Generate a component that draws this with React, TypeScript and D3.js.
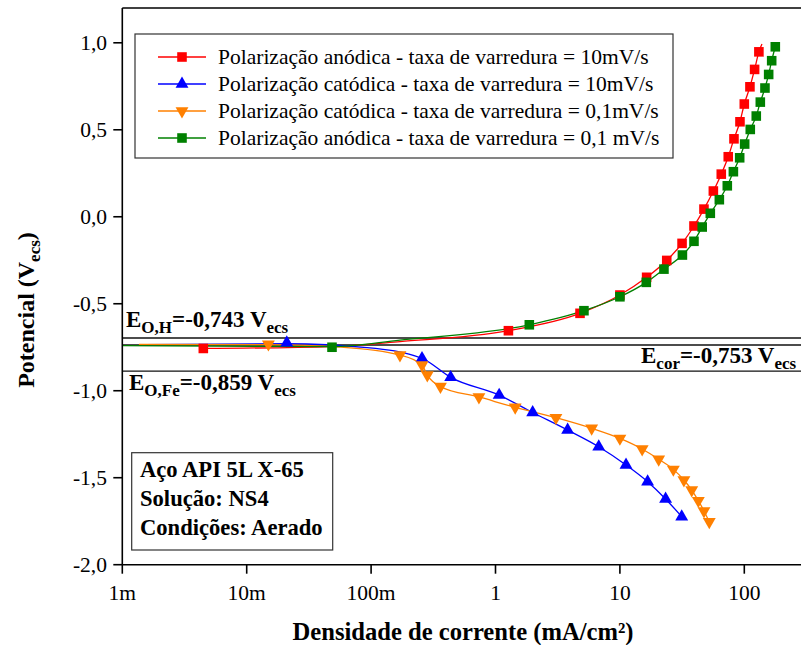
import React from "react";
import * as d3 from "d3";

// ---------- data (current density in mA/cm², potential in V_ecs) ----------
// Anodic polarization, 10 mV/s (red squares)
const anod10MarkI = [0.00448, 1.27, 4.78, 10.0, 16.4, 23.8, 31.6, 39.4, 47.4, 56.4, 65.3, 74.3, 82.6, 92.3, 100, 111, 121, 131];
const anod10MarkE = [-0.757, -0.655, -0.555, -0.45, -0.348, -0.251, -0.153, -0.053, 0.044, 0.148, 0.245, 0.345, 0.448, 0.546, 0.648, 0.747, 0.847, 0.948];
const anod10LineI = [0.00448, 0.0485, 0.1706, 1.27, 4.78, 10.0, 16.4, 23.8, 31.6, 39.4, 47.4, 56.4, 65.3, 74.3, 82.6, 92.3, 100, 111, 121, 131, 138.7];
const anod10LineE = [-0.757, -0.746, -0.718, -0.655, -0.555, -0.45, -0.348, -0.251, -0.153, -0.053, 0.044, 0.148, 0.245, 0.345, 0.448, 0.546, 0.648, 0.747, 0.847, 0.948, 0.993];

// Cathodic polarization, 10 mV/s (blue up-triangles)
const cat10MarkI = [0.021, 0.2566, 0.436, 1.07, 1.99, 3.8, 6.76, 11.2, 16.7, 23.3, 31.4];
const cat10MarkE = [-0.724, -0.814, -0.923, -1.025, -1.125, -1.226, -1.322, -1.427, -1.523, -1.622, -1.724];
const cat10LineI = [0.0015, 0.021, 0.0927, 0.2566, 0.436, 1.07, 1.99, 3.8, 6.76, 11.2, 16.7, 23.3, 31.4];
const cat10LineE = [-0.735, -0.73, -0.752, -0.814, -0.923, -1.025, -1.125, -1.226, -1.322, -1.427, -1.523, -1.622, -1.724];

// Cathodic polarization, 0.1 mV/s (orange down-triangles)
const cat01MarkI = [0.01494, 0.1706, 0.2566, 0.283, 0.361, 0.736, 1.44, 3.06, 5.93, 10.0, 15.1, 20.5, 26.9, 32.7, 37.8, 42.7, 47.4, 52.3];
const cat01MarkE = [-0.732, -0.795, -0.852, -0.91, -0.976, -1.036, -1.095, -1.155, -1.216, -1.274, -1.335, -1.394, -1.452, -1.513, -1.571, -1.632, -1.691, -1.753];
const cat01LineI = [0.00136, 0.01494, 0.0562, 0.1706, 0.2566, 0.283, 0.361, 0.736, 1.44, 3.06, 5.93, 10.0, 15.1, 20.5, 26.9, 32.7, 37.8, 42.7, 47.4, 52.3];
const cat01LineE = [-0.733, -0.735, -0.749, -0.795, -0.852, -0.91, -0.976, -1.036, -1.095, -1.155, -1.216, -1.274, -1.335, -1.394, -1.452, -1.513, -1.571, -1.632, -1.691, -1.753];

// Anodic polarization, 0.1 mV/s (green squares)
const anod01MarkI = [0.0485, 1.87, 5.14, 10.0, 16.3, 22.6, 31.8, 39.4, 45.9, 53.3, 63.0, 73.0, 81.7, 91.8, 100.7, 111.7, 124.8, 134.5, 146.6, 157, 166, 177.5];
const anod01MarkE = [-0.75, -0.621, -0.54, -0.46, -0.377, -0.301, -0.22, -0.141, -0.059, 0.02, 0.098, 0.178, 0.259, 0.339, 0.418, 0.502, 0.579, 0.659, 0.74, 0.818, 0.897, 0.977];
const anod01LineI = [0.001, 0.0485, 0.1706, 1.87, 5.14, 10.0, 16.3, 22.6, 31.8, 39.4, 45.9, 53.3, 63.0, 73.0, 81.7, 91.8, 100.7, 111.7, 124.8, 134.5, 146.6, 157, 166, 177.5];
const anod01LineE = [-0.741, -0.747, -0.709, -0.621, -0.54, -0.46, -0.377, -0.301, -0.22, -0.141, -0.059, 0.02, 0.098, 0.178, 0.259, 0.339, 0.418, 0.502, 0.579, 0.659, 0.74, 0.818, 0.897, 0.977];

// Horizontal reference lines (drawn positions)
const refLineE = [-0.697, -0.737, -0.887];

const xTickValues = [0.001, 0.01, 0.1, 1, 10, 100];
const xTickLabels = ["1m", "10m", "100m", "1", "10", "100"];
const yTickValues = [-2, -1.5, -1, -0.5, 0, 0.5, 1];
const yTickLabels = ["-2,0", "-1,5", "-1,0", "-0,5", "0,0", "0,5", "1,0"];

const legendLabels = [
  "Polarização anódica - taxa de varredura = 10mV/s",
  "Polarização catódica - taxa de varredura = 10mV/s",
  "Polarização catódica - taxa de varredura = 0,1mV/s",
  "Polarização anódica - taxa de varredura = 0,1 mV/s",
];
const infoLines = ["Aço API 5L X-65", "Solução: NS4", "Condições: Aerado"];

// ---------- styles ----------
const W = 801;
const H = 645;
const FONT = "'Liberation Serif', 'Times New Roman', Times, serif";
const RED = "#FF0000";
const BLUE = "#0000FF";
const ORANGE = "#FF8000";
const GREEN = "#008000";

const plot = { left: 122.3, top: 8, bottom: 564.7, right: 806.5 };

export default function App() {
  const x = d3.scaleLog().domain([0.001, Math.pow(10, 2.5)]).range([plot.left, plot.right]);
  const y = d3.scaleLinear().domain([-2, 1.2]).range([plot.bottom, plot.top]);

  const line = d3
    .line<[number, number]>()
    .x((d) => x(d[0]))
    .y((d) => y(d[1]))
    .curve(d3.curveMonotoneX);

  const zip = (a: number[], b: number[]) => a.map((v, i) => [v, b[i]] as [number, number]);

  const sq = d3.symbol().type(d3.symbolSquare).size(92)() as string;
  const tri = d3.symbol().type(d3.symbolTriangle).size(72)() as string;

  const series = [
    { color: RED, lineI: anod10LineI, lineE: anod10LineE, mI: anod10MarkI, mE: anod10MarkE, shape: "sq" },
    { color: BLUE, lineI: cat10LineI, lineE: cat10LineE, mI: cat10MarkI, mE: cat10MarkE, shape: "up" },
    { color: ORANGE, lineI: cat01LineI, lineE: cat01LineE, mI: cat01MarkI, mE: cat01MarkE, shape: "down" },
    { color: GREEN, lineI: anod01LineI, lineE: anod01LineE, mI: anod01MarkI, mE: anod01MarkE, shape: "sq" },
  ];

  const marker = (shape: string, color: string, cx: number, cy: number, key: any) => {
    if (shape === "sq") return <path key={key} d={sq} transform={`translate(${cx},${cy})`} fill={color} />;
    if (shape === "up") return <path key={key} d={tri} transform={`translate(${cx},${cy})`} fill={color} />;
    return <path key={key} d={tri} transform={`translate(${cx},${cy}) rotate(180)`} fill={color} />;
  };

  const legendY = [57, 84, 111, 138];

  return (
    <svg width={W} height={H} style={{ position: "absolute", left: 0, top: 0, background: "#fff" }} fontFamily={FONT}>
      <rect x={0} y={0} width={W} height={H} fill="#fff" />

      {/* reference lines */}
      {refLineE.map((e, i) => (
        <line key={i} x1={plot.left} x2={W} y1={y(e)} y2={y(e)} stroke="#111" strokeWidth={1.3} />
      ))}

      {/* series lines */}
      {series.map((s, i) => (
        <path key={i} d={line(zip(s.lineI, s.lineE)) as string} fill="none" stroke={s.color} strokeWidth={1.3} />
      ))}
      {/* markers */}
      {series.map((s, i) => (
        <g key={i}>{s.mI.map((v, j) => marker(s.shape, s.color, x(v), y(s.mE[j]), j))}</g>
      ))}

      {/* frame / axes */}
      <line x1={plot.left} x2={W} y1={plot.top} y2={plot.top} stroke="#000" strokeWidth={1.6} />
      <line x1={plot.left} x2={W} y1={plot.bottom} y2={plot.bottom} stroke="#000" strokeWidth={1.6} />
      <line x1={plot.left} x2={plot.left} y1={plot.top} y2={plot.bottom} stroke="#000" strokeWidth={1.6} />

      {xTickValues.map((v, i) => (
        <g key={i}>
          <line x1={x(v)} x2={x(v)} y1={plot.bottom} y2={plot.bottom + 9} stroke="#000" strokeWidth={1.6} />
          <text x={x(v)} y={600} textAnchor="middle" fontSize={21.5}>
            {xTickLabels[i]}
          </text>
        </g>
      ))}
      {yTickValues.map((v, i) => (
        <g key={i}>
          <line x1={plot.left - 9} x2={plot.left} y1={y(v)} y2={y(v)} stroke="#000" strokeWidth={1.6} />
          <text x={107} y={y(v) + 7} textAnchor="end" fontSize={21.5}>
            {yTickLabels[i]}
          </text>
        </g>
      ))}

      {/* axis titles */}
      <text x={463} y={640} textAnchor="middle" fontSize={24.6} fontWeight="bold">
        Densidade de corrente (mA/cm²)
      </text>
      <text transform="translate(34,310) rotate(-90)" textAnchor="middle" fontSize={24} fontWeight="bold">
        Potencial (V<tspan fontSize={17} dy={6}>ecs</tspan>
        <tspan dy={-6}>)</tspan>
      </text>

      {/* annotations */}
      <text x={126} y={327} fontSize={23} fontWeight="bold">
        E<tspan fontSize={17} dy={6}>O,H</tspan>
        <tspan dy={-6}>=-0,743 V</tspan>
        <tspan fontSize={17} dy={6}>ecs</tspan>
      </text>
      <text x={641} y={363} fontSize={23} fontWeight="bold">
        E<tspan fontSize={17} dy={6}>cor</tspan>
        <tspan dy={-6}>=-0,753 V</tspan>
        <tspan fontSize={17} dy={6}>ecs</tspan>
      </text>
      <text x={129} y={390} fontSize={23} fontWeight="bold">
        E<tspan fontSize={17} dy={6}>O,Fe</tspan>
        <tspan dy={-6}>=-0,859 V</tspan>
        <tspan fontSize={17} dy={6}>ecs</tspan>
      </text>

      {/* legend */}
      <rect x={135} y={34} width={538} height={124} fill="#fff" stroke="#333" strokeWidth={1.2} />
      {series.map((s, i) => (
        <g key={i}>
          <line x1={158} x2={206} y1={legendY[i]} y2={legendY[i]} stroke={s.color} strokeWidth={1.3} />
          {marker(s.shape, s.color, 182, legendY[i], "m")}
          <text x={218} y={legendY[i] + 7} fontSize={21.5}>
            {legendLabels[i]}
          </text>
        </g>
      ))}

      {/* info box */}
      <rect x={131.7} y={452.7} width={201} height={97.3} fill="#fff" stroke="#333" strokeWidth={1.2} />
      {infoLines.map((t, i) => (
        <text key={i} x={140} y={477 + i * 29} fontSize={22.6} fontWeight="bold">
          {t}
        </text>
      ))}
    </svg>
  );
}
